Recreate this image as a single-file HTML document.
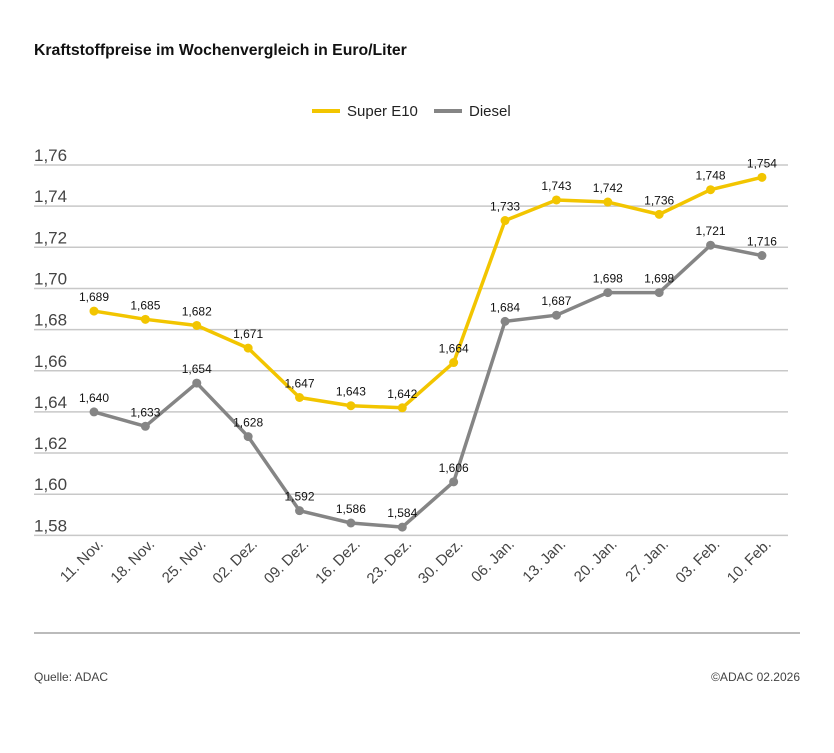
<!DOCTYPE html>
<html><head><meta charset="utf-8"><style>
body{margin:0;background:#fff;font-family:"Liberation Sans",sans-serif;}
svg{display:block}
</style></head><body>
<svg id="c" width="834" height="753" xmlns="http://www.w3.org/2000/svg" font-family="Liberation Sans, sans-serif">
<text x="34" y="55" font-size="15.8" font-weight="bold" fill="#111">Kraftstoffpreise im Wochenvergleich in Euro/Liter</text>
<line x1="312" y1="111" x2="340" y2="111" stroke="#f2c500" stroke-width="4"/>
<text x="347" y="116" font-size="15" fill="#222">Super E10</text>
<line x1="434" y1="111" x2="462" y2="111" stroke="#858585" stroke-width="4"/>
<text x="469" y="116" font-size="15" fill="#222">Diesel</text>
<line x1="34" y1="633" x2="800" y2="633" stroke="#bbb" stroke-width="2"/>
<text x="34" y="681" font-size="12" fill="#444">Quelle: ADAC</text>
<text x="800" y="681" font-size="12" fill="#444" text-anchor="end">©ADAC 02.2026</text>
<g id="g"></g>
</svg>
<script>
var g=document.getElementById('g'),h='';
function y(v){return 165+(1.76-v)/0.02*41.15;}
function x(i){return 94+i*51.38;}
for(var k=0;k<10;k++){var v=1.76-k*0.02,yy=y(v);
h+='<line x1="34" y1="'+yy+'" x2="788" y2="'+yy+'" stroke="#c8c8c8" stroke-width="1.5"/>';
h+='<text x="34" y="'+(yy-4)+'" font-size="17" fill="#444">'+v.toFixed(2).replace('.',',')+'</text>';}
var L=["11. Nov.","18. Nov.","25. Nov.","02. Dez.","09. Dez.","16. Dez.","23. Dez.","30. Dez.","06. Jan.","13. Jan.","20. Jan.","27. Jan.","03. Feb.","10. Feb."];
var S=[1.689,1.685,1.682,1.671,1.647,1.643,1.642,1.664,1.733,1.743,1.742,1.736,1.748,1.754];
var D=[1.640,1.633,1.654,1.628,1.592,1.586,1.584,1.606,1.684,1.687,1.698,1.698,1.721,1.716];
L.forEach(function(t,i){h+='<text transform="translate('+(x(i)+10)+',545) rotate(-45)" text-anchor="end" font-size="15" fill="#444">'+t+'</text>';});
function ser(a,c){var p=a.map(function(v,i){return x(i)+','+y(v)}).join(' ');
h+='<polyline points="'+p+'" fill="none" stroke="'+c+'" stroke-width="3.5" stroke-linejoin="round"/>';
a.forEach(function(v,i){h+='<circle cx="'+x(i)+'" cy="'+y(v)+'" r="4.5" fill="'+c+'"/>';
h+='<text x="'+x(i)+'" y="'+(y(v)-10)+'" text-anchor="middle" font-size="12" fill="#111">'+v.toFixed(3).replace('.',',')+'</text>';});}
ser(D,'#858585');ser(S,'#f2c500');
g.innerHTML=h;
</script>
</body></html>
